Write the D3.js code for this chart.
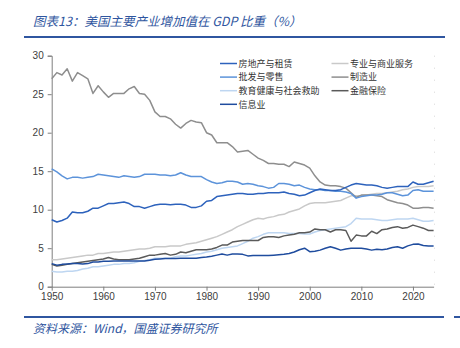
<!DOCTYPE html>
<html>
<head>
<meta charset="utf-8">
<script src="https://cdn.jsdelivr.net/npm/d3@7"></script>
<style>
  html, body { margin: 0; padding: 0; background: #fff; }
  svg { display: block; }
</style>
</head>
<body>
<svg id="chart" width="460" height="348"></svg>
<script>
// Share of US GDP by major industry, 1950–2024 (%)
const years = d3.range(1950, 2025);

const realEstate = [8.7, 8.4, 8.6, 8.9, 9.7, 9.6, 9.6, 9.8, 10.2, 10.2,
  10.5, 10.8, 10.8, 10.9, 11.0, 10.8, 10.4, 10.4, 10.2, 10.4,
  10.6, 10.7, 10.7, 10.65, 10.7, 10.7, 10.6, 10.3, 10.3, 10.5,
  11.1, 11.2, 11.7, 11.8, 11.9, 12.0, 12.1, 12.1, 12.0, 12.0,
  12.1, 12.1, 12.2, 12.2, 12.2, 12.3, 12.1, 12.0, 11.8, 11.9,
  12.2, 12.5, 12.7, 12.6, 12.5, 12.5, 12.6, 12.9, 13.2, 13.4,
  13.3, 13.2, 13.2, 13.1, 12.9, 12.8, 12.9, 13.0, 13.0, 13.0,
  13.6, 13.3, 13.3, 13.5, 13.7];

const profServices = [3.5, 3.5, 3.6, 3.7, 3.8, 3.9, 4.0, 4.1, 4.1, 4.3,
  4.3, 4.4, 4.5, 4.5, 4.6, 4.7, 4.8, 4.9, 4.9, 5.0,
  5.2, 5.2, 5.2, 5.3, 5.3, 5.3, 5.5, 5.6, 5.7, 5.9,
  6.1, 6.3, 6.5, 6.8, 7.1, 7.4, 7.8, 8.1, 8.4, 8.7,
  8.9, 8.8, 9.0, 9.1, 9.3, 9.4, 9.7, 9.9, 10.1, 10.5,
  10.8, 10.9, 10.9, 10.9, 11.0, 11.1, 11.2, 11.5, 11.8, 11.8,
  11.8, 11.9, 12.0, 12.1, 12.1, 12.2, 12.3, 12.4, 12.6, 12.7,
  12.9, 13.0, 13.0, 13.0, 13.1];

const wholesaleRetail = [15.3, 14.9, 14.4, 14.0, 14.2, 14.2, 14.1, 14.2, 14.3, 14.6,
  14.5, 14.4, 14.3, 14.2, 14.4, 14.3, 14.2, 14.3, 14.6, 14.6,
  14.6, 14.5, 14.5, 14.4, 14.5, 14.8, 14.5, 14.3, 14.3, 14.3,
  13.9, 13.6, 13.4, 13.5, 13.7, 13.7, 13.6, 13.3, 13.4, 13.3,
  13.1, 13.0, 12.8, 12.9, 13.4, 13.4, 13.3, 13.1, 13.2, 12.9,
  12.7, 12.6, 12.6, 12.5, 12.5, 12.4, 12.4, 12.3, 12.1, 11.5,
  11.7, 11.8, 11.9, 11.9, 12.0, 12.2, 12.2, 12.0, 11.8, 11.9,
  12.5, 12.6, 12.4, 12.4, 12.4];

const manufacturing = [27.0, 27.8, 27.5, 28.3, 26.7, 27.8, 27.4, 27.0, 25.1, 26.1,
  25.3, 24.6, 25.1, 25.1, 25.1, 25.7, 26.0, 25.1, 25.0, 24.2,
  22.7, 22.1, 22.1, 21.8, 21.1, 20.6, 21.2, 21.6, 21.4, 21.3,
  20.0, 19.7, 18.7, 18.7, 18.7, 18.2, 17.5, 17.6, 17.7, 17.2,
  16.7, 16.4, 16.0, 16.0, 15.9, 15.9, 15.6, 16.2, 16.0, 15.8,
  15.4, 14.4, 13.6, 13.2, 13.1, 13.1, 13.0, 12.8, 12.2, 11.6,
  11.9, 11.9, 11.9, 11.8, 11.7, 11.3, 11.1, 10.9, 10.8, 10.6,
  10.2, 10.2, 10.3, 10.3, 10.2];

const eduHealth = [2.0, 1.9, 1.9, 2.0, 2.0, 2.1, 2.3, 2.4, 2.6, 2.6,
  2.7, 2.8, 2.9, 2.9, 3.0, 3.0, 3.1, 3.3, 3.4, 3.5,
  3.7, 3.7, 3.7, 3.7, 3.9, 4.0, 4.0, 4.1, 4.2, 4.3,
  4.5, 4.6, 4.8, 5.0, 5.1, 5.2, 5.3, 5.6, 5.9, 6.3,
  6.5, 6.8, 7.0, 7.0, 7.0, 7.0, 6.9, 6.9, 6.9, 6.85,
  6.85, 7.1, 7.3, 7.4, 7.5, 7.6, 7.7, 7.8, 8.2, 8.9,
  8.8, 8.8, 8.8, 8.7, 8.6, 8.6, 8.7, 8.8, 8.8, 8.8,
  8.9, 8.7, 8.5, 8.5, 8.6];

const financeInsurance = [2.9, 2.7, 2.8, 2.9, 3.0, 3.1, 3.2, 3.3, 3.4, 3.5,
  3.6, 3.8, 3.6, 3.5, 3.5, 3.5, 3.6, 3.7, 3.9, 4.1,
  4.1, 4.2, 4.3, 4.1, 4.2, 4.5, 4.4, 4.6, 4.8, 4.8,
  4.8, 4.9, 5.1, 5.4, 5.4, 5.8, 5.9, 6.0, 6.0, 6.0,
  6.0, 6.4, 6.5, 6.5, 6.4, 6.6, 6.7, 6.8, 7.0, 7.0,
  7.1, 7.5, 7.4, 7.4, 7.1, 7.4, 7.4, 7.3, 5.9, 6.7,
  6.6, 6.6, 7.2, 6.9, 7.4, 7.5, 7.7, 7.8, 7.6, 7.7,
  8.0, 7.8, 7.6, 7.3, 7.3];

const information = [3.0, 2.8, 2.9, 2.95, 3.0, 3.0, 2.95, 3.0, 3.2, 3.2,
  3.3, 3.3, 3.35, 3.35, 3.35, 3.35, 3.35, 3.35, 3.35, 3.45,
  3.55, 3.6, 3.65, 3.65, 3.65, 3.7, 3.7, 3.7, 3.7, 3.8,
  3.85, 3.95, 4.1, 4.25, 4.1, 4.25, 4.25, 4.2, 4.0, 4.05,
  4.05, 4.05, 4.05, 4.1, 4.15, 4.2, 4.3, 4.5, 4.8, 5.0,
  4.55, 4.6, 4.75, 5.0, 5.2, 5.0, 4.75, 4.9, 5.0, 5.0,
  5.0, 4.9, 4.75, 4.85, 4.8, 4.9, 5.1, 5.2, 5.0, 5.3,
  5.5, 5.55, 5.35, 5.3, 5.3];

const seriesNames = ["房地产与租赁", "专业与商业服务", "批发与零售", "制造业",
  "教育健康与社会救助", "金融保险", "信息业"];
const seriesColors = ["#2D62BC", "#C9C9C9", "#5C93DA", "#8E8E8E",
  "#BED6F1", "#5A5A5A", "#1F4C9E"];
const seriesValues = [realEstate, profServices, wholesaleRetail, manufacturing,
  eduHealth, financeInsurance, information];

const yTicks = [0, 5, 10, 15, 20, 25, 30];
const xTicks = [1950, 1960, 1970, 1980, 1990, 2000, 2010, 2020];

const titleText = "图表13：美国主要产业增加值在 GDP 比重（%）";
const sourceText = "资料来源：Wind，国盛证券研究所";

const svg = d3.select("#chart");
const blue = "#2F56A0";

// Header
svg.append("text")
  .attr("x", 33).attr("y", 26)
  .attr("font-family", "'Noto Sans CJK SC', sans-serif")
  .attr("font-size", 12.5)
  .attr("font-style", "italic")
  .attr("fill", blue)
  .text(titleText);
svg.append("line")
  .attr("x1", 24).attr("x2", 445).attr("y1", 37).attr("y2", 37)
  .attr("stroke", blue).attr("stroke-width", 2);

// Footer
svg.append("line")
  .attr("x1", 24).attr("x2", 444).attr("y1", 317).attr("y2", 317)
  .attr("stroke", blue).attr("stroke-width", 2);
svg.append("line")
  .attr("x1", 454).attr("x2", 460).attr("y1", 317).attr("y2", 317)
  .attr("stroke", blue).attr("stroke-width", 2);
svg.append("text")
  .attr("x", 33).attr("y", 333)
  .attr("font-family", "'Noto Sans CJK SC', sans-serif")
  .attr("font-size", 12)
  .attr("font-style", "italic")
  .attr("fill", blue)
  .text(sourceText);

// Plot area
const x = d3.scaleLinear().domain([1950, 2024]).range([51.7, 433.6]);
const y = d3.scaleLinear().domain([0, 30]).range([286.7, 55.7]);

// faint right-hand guide
svg.append("line")
  .attr("x1", 434.5).attr("x2", 434.5).attr("y1", y(30)).attr("y2", y(0))
  .attr("stroke", "#d8d8d8").attr("stroke-width", 1)
  .attr("stroke-dasharray", "1,11");

const yAxis = svg.append("g")
  .attr("transform", `translate(${x(1950)},0)`)
  .call(d3.axisLeft(y).tickValues(yTicks).tickSize(4).tickPadding(4));
const xAxis = svg.append("g")
  .attr("transform", `translate(0,${y(0)})`)
  .call(d3.axisBottom(x).tickValues(xTicks).tickFormat(d3.format("d"))
    .tickSize(4).tickSizeOuter(0).tickPadding(2));

[yAxis, xAxis].forEach(g => {
  g.select(".domain").attr("stroke", "#7f7f7f");
  g.selectAll(".tick line").attr("stroke", "#7f7f7f");
  g.selectAll(".tick text")
    .attr("fill", "#404040")
    .attr("font-family", "'Liberation Sans', Arial, sans-serif")
    .attr("font-size", 10);
});

// Series lines
const line = d3.line()
  .x((d, i) => x(years[i]))
  .y(d => y(d));

const drawOrder = [4, 1, 5, 3, 2, 0, 6];
drawOrder.forEach(k => {
  svg.append("path")
    .datum(seriesValues[k])
    .attr("fill", "none")
    .attr("stroke", seriesColors[k])
    .attr("stroke-width", 1.5)
    .attr("stroke-linejoin", "round")
    .attr("d", line);
});

// Legend: two columns
const legendSlots = [
  [0, 0], [1, 0], [0, 1], [1, 1], [0, 2], [1, 2], [0, 3]
];
const legend = svg.append("g");
seriesNames.forEach((name, k) => {
  const [col, row] = legendSlots[k];
  const lx = col === 0 ? 220 : 331.5;
  const ly = 63.5 + row * 13.6;
  legend.append("line")
    .attr("x1", lx).attr("x2", lx + 17)
    .attr("y1", ly).attr("y2", ly)
    .attr("stroke", seriesColors[k]).attr("stroke-width", 1.5);
  legend.append("text")
    .attr("x", lx + 18.5).attr("y", ly + 3.3)
    .attr("font-family", "'Noto Sans CJK SC', sans-serif")
    .attr("font-size", 9)
    .attr("fill", "#333")
    .text(name);
});
</script>
</body>
</html>
